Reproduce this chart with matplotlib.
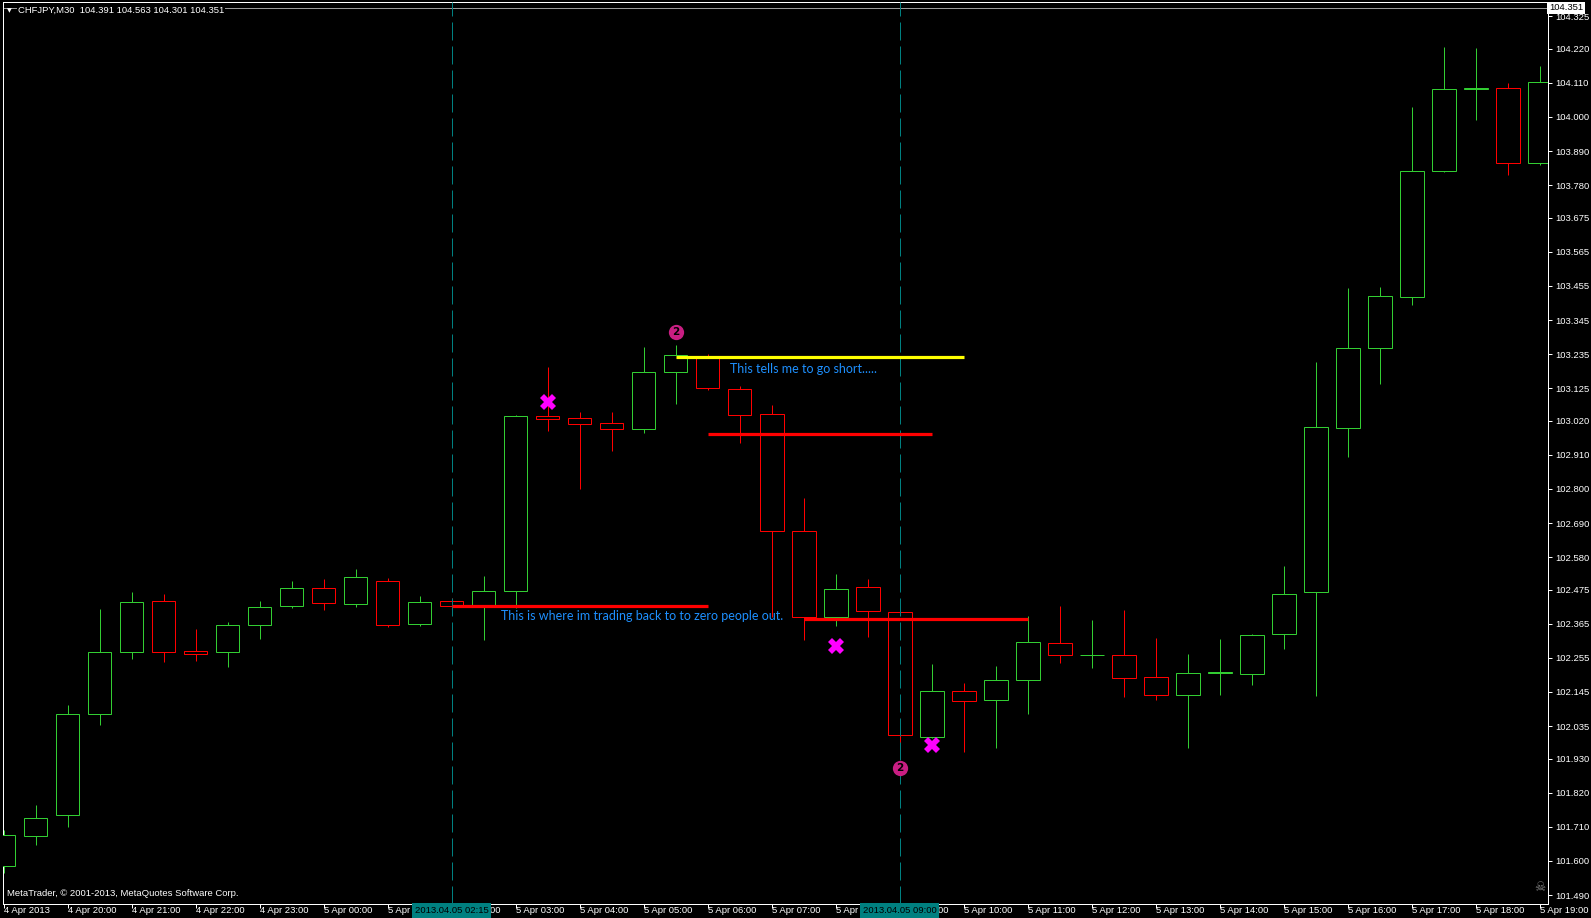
import matplotlib.pyplot as plt
from matplotlib.patches import Rectangle
from matplotlib.transforms import blended_transform_factory

# CHFJPY M30 bars, 4 Apr 2013 19:00 .. 5 Apr 2013 19:00
opens = [101.582, 101.680, 101.749, 102.073, 102.273, 102.440, 102.276, 102.273,
         102.361, 102.423, 102.482, 102.430, 102.502, 102.364, 102.438, 102.422,
         102.470, 103.035, 103.029, 103.012, 102.993, 103.176, 103.225, 103.124,
         103.042, 102.665, 102.387, 102.485, 102.403, 101.999, 102.148, 102.119,
         102.184, 102.303, 102.264, 102.264, 102.194, 102.135, 102.207, 102.204,
         102.331, 102.469, 102.996, 103.255, 103.418, 103.827, 104.089, 104.092,
         103.850]
highs = [101.700, 101.782, 102.102, 102.413, 102.469, 102.462, 102.348, 102.371,
         102.439, 102.502, 102.508, 102.541, 102.512, 102.456, 102.448, 102.518,
         103.038, 103.192, 103.048, 103.048, 103.258, 103.264, 103.235, 103.133,
         103.071, 102.770, 102.525, 102.508, 102.403, 102.235, 102.174, 102.229,
         102.390, 102.422, 102.378, 102.410, 102.318, 102.266, 102.315, 102.331,
         102.551, 103.209, 103.448, 103.451, 104.033, 104.227, 104.223, 104.109,
         104.164]
lows = [101.560, 101.651, 101.710, 102.040, 102.250, 102.243, 102.246, 102.227,
        102.315, 102.417, 102.410, 102.420, 102.354, 102.358, 102.422, 102.313,
        102.415, 102.986, 102.800, 102.921, 102.980, 103.074, 103.120, 102.947,
        102.387, 102.312, 102.358, 102.323, 101.967, 101.995, 101.951, 101.964,
        102.074, 102.238, 102.222, 102.129, 102.119, 101.965, 102.135, 102.168,
        102.283, 102.132, 102.904, 103.137, 103.392, 103.824, 103.991, 103.814,
        103.845]
closes = [101.683, 101.739, 102.073, 102.273, 102.436, 102.273, 102.266, 102.361,
          102.420, 102.482, 102.433, 102.515, 102.361, 102.435, 102.422, 102.470,
          103.035, 103.025, 103.009, 102.993, 103.176, 103.232, 103.127, 103.038,
          102.665, 102.387, 102.476, 102.406, 102.006, 102.148, 102.116, 102.184,
          102.306, 102.264, 102.264, 102.190, 102.135, 102.207, 102.210, 102.328,
          102.462, 102.999, 103.255, 103.421, 103.827, 104.089, 104.092, 103.850,
          104.112]

time_labels = ["4 Apr 2013", "4 Apr 20:00", "4 Apr 21:00", "4 Apr 22:00", "4 Apr 23:00",
               "5 Apr 00:00", "5 Apr 01:00", "5 Apr 02:00", "5 Apr 03:00", "5 Apr 04:00",
               "5 Apr 05:00", "5 Apr 06:00", "5 Apr 07:00", "5 Apr 08:00", "5 Apr 09:00",
               "5 Apr 10:00", "5 Apr 11:00", "5 Apr 12:00", "5 Apr 13:00", "5 Apr 14:00",
               "5 Apr 15:00", "5 Apr 16:00", "5 Apr 17:00", "5 Apr 18:00", "5 Apr 19:00"]

price_ticks = [104.325, 104.220, 104.110, 104.000, 103.890, 103.780, 103.675, 103.565,
               103.455, 103.345, 103.235, 103.125, 103.020, 102.910, 102.800, 102.690,
               102.580, 102.475, 102.365, 102.255, 102.145, 102.035, 101.930, 101.820,
               101.710, 101.600, 101.490]

bid = 104.351
header = "CHFJPY,M30  104.391 104.563 104.301 104.351"

# objects drawn on the chart
vline_bars = [14, 28]
vline_labels = ["2013.04.05 02:15", "2013.04.05 09:00"]
trend_start = [21, 22, 14, 25]
trend_end = [30, 29, 22, 32]
trend_price = [103.225, 102.976, 102.422, 102.382]
trend_color = ["#FFFF00", "#FF0000", "#FF0000", "#FF0000"]
cross_bars = [17, 26, 29]
cross_prices = [103.080, 102.293, 101.974]
circle_bars = [21, 28]
circle_prices = [103.306, 101.899]
note_texts = ["This tells me to go short.....",
              "This is where im trading back to to zero people out."]
note_bars = [22.7, 15.55]
note_prices = [103.188, 102.390]

UP = "#32CD32"
DOWN = "#FF0000"
PX = 0.72  # one pixel in points at dpi 100

fig = plt.figure(figsize=(15.91, 9.18), dpi=100, facecolor="black")
ax = fig.add_axes([3 / 1591, 14 / 918, 1545 / 1591, 902 / 918])
ax.set_facecolor("black")
ax.set_xlim(-0.02, 48.26)
ax.set_ylim(101.461, 104.371)

# candles
w = 0.74
for i in range(len(opens)):
    o, h, l, c = opens[i], highs[i], lows[i], closes[i]
    col = UP if c >= o else DOWN
    ax.vlines(i, l, h, color=col, lw=PX, zorder=2)
    ax.add_patch(Rectangle((i - w / 2, min(o, c)), w, abs(c - o), facecolor="black",
                           edgecolor=col, lw=PX, zorder=3))

# vertical time lines
for b in vline_bars:
    ax.axvline(b, color="#008080", lw=PX, linestyle=(0, (18, 6)), zorder=4)

# trend lines
for s, e, p, col in zip(trend_start, trend_end, trend_price, trend_color):
    ax.plot([s, e], [p, p], color=col, lw=2.3, solid_capstyle="butt", zorder=5)

# bid line
ax.axhline(bid, color="#9a9a9a", lw=PX, zorder=1)

# markers
ax.plot(cross_bars, cross_prices, linestyle="none", marker="X", markersize=12,
        color="#FF00FF", markeredgewidth=0, zorder=6)
ax.plot(circle_bars, circle_prices, linestyle="none", marker="o", markersize=11,
        color="#C81E82", markeredgewidth=0, zorder=6)
for b, p in zip(circle_bars, circle_prices):
    ax.text(b, p, "2", color="black", fontsize=7.5, fontweight="bold",
            ha="center", va="center", zorder=7)

# notes
for t, b, p in zip(note_texts, note_bars, note_prices):
    ax.text(b, p, t, color="#1E90FF", fontsize=9, family="Lato",
            ha="left", va="center", zorder=7)

# axes styling
for sp in ax.spines.values():
    sp.set_color("white")
    sp.set_linewidth(PX)
ax.yaxis.tick_right()
ax.set_yticks(price_ticks)
ax.set_yticklabels([f"{v:.3f}" for v in price_ticks])
ax.set_xticks(range(0, 49, 2))
ax.set_xticklabels(time_labels, ha="left")
ax.tick_params(axis="both", colors="white", labelcolor="white", labelsize=6.8,
               length=3, width=PX)
ax.tick_params(axis="x", pad=-1.5)
ax.tick_params(axis="y", pad=2)
for lab in ax.get_xticklabels() + ax.get_yticklabels():
    lab.set_family("Liberation Sans")

# time labels of the vertical lines
tr = blended_transform_factory(ax.transData, ax.transAxes)
for b, t in zip(vline_bars, vline_labels):
    ax.text(b, -0.0075, t, transform=tr, color="black", fontsize=6.8,
            family="Liberation Sans", ha="center", va="center", clip_on=False,
            zorder=8, bbox=dict(boxstyle="square,pad=0.3", facecolor="#008080",
                                edgecolor="none"))

# header and footer
ax.text(0.0025, 0.9905, "\u25BC", transform=ax.transAxes, color="white", fontsize=4.5,
        family="DejaVu Sans", ha="left", va="center", zorder=8)
ax.text(0.0097, 0.9905, header, transform=ax.transAxes, color="white", fontsize=6.8,
        family="Liberation Sans", ha="left", va="center", zorder=8,
        bbox=dict(boxstyle="square,pad=0.1", facecolor="black", edgecolor="none"))
ax.text(0.0027, 0.0115, "MetaTrader, \u00a9 2001-2013, MetaQuotes Software Corp.",
        transform=ax.transAxes, color="white", fontsize=6.8, family="Liberation Sans",
        ha="left", va="center", zorder=8)
ax.text(0.9945, 0.0185, "\u2620", transform=ax.transAxes, color="#808080", fontsize=9,
        family="DejaVu Sans", ha="center", va="center", zorder=8)

# bid price label on the price scale
fig.text(1549 / 1591, 1 - 8 / 918, f"{bid:.3f}", color="black", fontsize=6.8,
         family="Liberation Sans", ha="left", va="center",
         bbox=dict(boxstyle="square,pad=0.2", facecolor="white", edgecolor="none"))

fig.savefig("out.png", dpi=100, facecolor="black")
